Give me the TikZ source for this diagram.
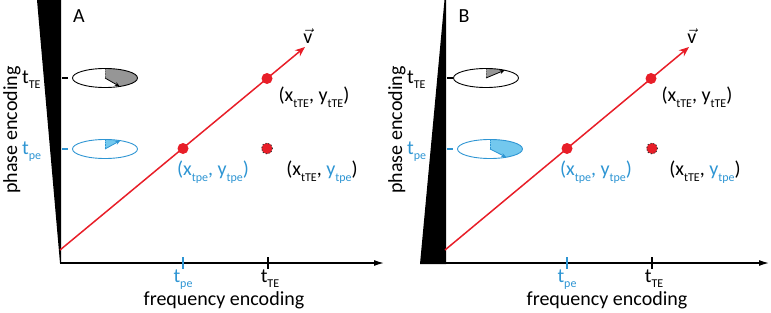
\documentclass[tikz,border=0pt]{standalone}
\usepackage{fontspec}
\setmainfont{Carlito}
\usetikzlibrary{arrows.meta}
\definecolor{myblue}{RGB}{46,149,211}
\definecolor{lblue}{RGB}{115,200,238}
\definecolor{myred}{RGB}{232,30,40}
\definecolor{sgray}{RGB}{150,150,150}
\newcommand\sbs[1]{\raisebox{-0.6ex}{\fontsize{12}{12}\selectfont #1}}
\tikzset{
  lbl/.style={font=\fontsize{20}{22}\selectfont, inner sep=0pt},
  axisline/.style={line width=1.3pt, -{Latex[length=10pt,width=6pt]}},
  vecline/.style={myred, line width=1.5pt, -{Stealth[length=10pt,width=8pt]}},
  rdot/.style={circle, fill=myred, minimum size=11pt, inner sep=0pt},
  ghost/.style={rdot, draw=black!80, dotted, line width=1pt},
  tick/.style={line width=1.3pt},
  ell/.style={line width=0.9pt},
  radius line/.style={line width=0.8pt, -{Stealth[length=5pt,width=4pt]}},
  dotradius/.style={densely dotted, line width=0.6pt, sgray!70!black},
}
\begin{document}
\begin{tikzpicture}[x=1pt,y=-1pt]
\useasboundingbox (0,0) rectangle (771,313);
% ================= Panel A =================
\fill (37,0) -- (61,0) -- (61,263) -- (60,263) -- cycle;
\coordinate (A-o) at (60,263);
\coordinate (A-xe) at (384,263);
\draw[axisline] (A-o) -- (A-xe);
% y ticks
\coordinate (A-yt1) at (62,78); \coordinate (A-yt2) at (68,78);
\coordinate (A-yp1) at (62,149); \coordinate (A-yp2) at (68,149);
\draw[tick] (A-yt1) -- (A-yt2);
\draw[tick, myblue] (A-yp1) -- (A-yp2);
\node[lbl, anchor=base west] (A-lte) at (22,83) {t\sbs{TE}};
\node[lbl, anchor=base west, text=myblue] (A-lpe) at (22,154) {t\sbs{pe}};
\node[lbl, rotate=90] (A-ylab) at (12,130) {phase encoding};
\node[lbl] (A-title) at (79,16) {A};
% x ticks
\coordinate (A-xp1) at (183,257); \coordinate (A-xp2) at (183,269);
\coordinate (A-xt1) at (268,257); \coordinate (A-xt2) at (268,269);
\draw[tick, myblue] (A-xp1) -- (A-xp2);
\draw[tick] (A-xt1) -- (A-xt2);
\node[lbl, anchor=base, text=myblue] (A-xlpe) at (183,282) {t\sbs{pe}};
\node[lbl, anchor=base] (A-xlte) at (270,282) {t\sbs{TE}};
\node[lbl] (A-xlab) at (224,300) {frequency encoding};
% ellipses
\coordinate (A-c1) at (105,78);
\fill[sgray] (A-c1) -- ([shift={(A-c1)}]90:32.5pt and 9.5pt) arc[start angle=90, end angle=-63, x radius=32.5pt, y radius=9.5pt] -- cycle;
\draw[ell] (A-c1) ellipse[x radius=32.5pt, y radius=9.5pt];
\draw[dotradius] (A-c1) -- ([shift={(A-c1)}]90:32.5pt and 9.5pt);
\draw[radius line] (A-c1) -- ([shift={(A-c1)}]-63:32.5pt and 9.5pt);
\coordinate (A-c2) at (105,149);
\fill[lblue] (A-c2) -- ([shift={(A-c2)}]90:32.5pt and 9.5pt) arc[start angle=90, end angle=62, x radius=32.5pt, y radius=9.5pt] -- cycle;
\draw[ell, myblue] (A-c2) ellipse[x radius=32.5pt, y radius=9.5pt];
\draw[dotradius, myblue] (A-c2) -- ([shift={(A-c2)}]90:32.5pt and 9.5pt);
\draw[radius line, myblue] (A-c2) -- ([shift={(A-c2)}]62:32.5pt and 9.5pt);
% vector
\coordinate (A-s) at (60,250);
\coordinate (A-tip) at (305,47);
\draw[vecline] (A-s) -- (A-tip);
\node[rdot] (A-d1) at (183,148.5) {};
\node[rdot] (A-d2) at (267,78.5) {};
\node[ghost] (A-d3) at (267,148.5) {};
\node[lbl] (A-v) at (308,36) {$\vec{\mbox{v}}$};
\node[lbl] (A-l2) at (314,97) {(x\sbs{tTE}, y\sbs{tTE})};
\node[lbl, text=myblue] (A-l1) at (213,172) {(x\sbs{tpe}, y\sbs{tpe})};
\node[lbl] (A-l3) at (322,172) {(x\sbs{tTE}, \textcolor{myblue}{y\sbs{tpe}})};
% ================= Panel B =================
\fill (444.5,0) -- (420,264) -- (446,264) -- (446,0) -- cycle;
\coordinate (B-o) at (420,263);
\coordinate (B-xe) at (769,263);
\draw[axisline] (B-o) -- (B-xe);
\coordinate (B-yt1) at (447,78); \coordinate (B-yt2) at (453,78);
\coordinate (B-yp1) at (447,149); \coordinate (B-yp2) at (453,149);
\draw[tick] (B-yt1) -- (B-yt2);
\draw[tick, myblue] (B-yp1) -- (B-yp2);
\node[lbl, anchor=base west] (B-lte) at (407,83) {t\sbs{TE}};
\node[lbl, anchor=base west, text=myblue] (B-lpe) at (407,154) {t\sbs{pe}};
\node[lbl, rotate=90] (B-ylab) at (397,130) {phase encoding};
\node[lbl] (B-title) at (464,16) {B};
\coordinate (B-xp1) at (567,257); \coordinate (B-xp2) at (567,269);
\coordinate (B-xt1) at (652,257); \coordinate (B-xt2) at (652,269);
\draw[tick, myblue] (B-xp1) -- (B-xp2);
\draw[tick] (B-xt1) -- (B-xt2);
\node[lbl, anchor=base, text=myblue] (B-xlpe) at (567,282) {t\sbs{pe}};
\node[lbl, anchor=base] (B-xlte) at (654,282) {t\sbs{TE}};
\node[lbl] (B-xlab) at (607,300) {frequency encoding};
\coordinate (B-c1) at (486,78);
\fill[sgray] (B-c1) -- ([shift={(B-c1)}]90:32.5pt and 9.5pt) arc[start angle=90, end angle=55, x radius=32.5pt, y radius=9.5pt] -- cycle;
\draw[ell] (B-c1) ellipse[x radius=32.5pt, y radius=9.5pt];
\draw[dotradius] (B-c1) -- ([shift={(B-c1)}]90:32.5pt and 9.5pt);
\draw[radius line] (B-c1) -- ([shift={(B-c1)}]55:32.5pt and 9.5pt);
\coordinate (B-c2) at (490,149);
\fill[lblue] (B-c2) -- ([shift={(B-c2)}]90:32.5pt and 9.5pt) arc[start angle=90, end angle=-60, x radius=32.5pt, y radius=9.5pt] -- cycle;
\draw[ell, myblue] (B-c2) ellipse[x radius=32.5pt, y radius=9.5pt];
\draw[dotradius, myblue] (B-c2) -- ([shift={(B-c2)}]90:32.5pt and 9.5pt);
\draw[radius line, myblue] (B-c2) -- ([shift={(B-c2)}]-60:32.5pt and 9.5pt);
\coordinate (B-s) at (445,250);
\coordinate (B-tip) at (689,47);
\draw[vecline] (B-s) -- (B-tip);
\node[rdot] (B-d1) at (567,148.5) {};
\node[rdot] (B-d2) at (651,78.5) {};
\node[ghost] (B-d3) at (652,148.5) {};
\node[lbl] (B-v) at (692,36) {$\vec{\mbox{v}}$};
\node[lbl] (B-l2) at (697,97) {(x\sbs{tTE}, y\sbs{tTE})};
\node[lbl, text=myblue] (B-l1) at (596,172) {(x\sbs{tpe}, y\sbs{tpe})};
\node[lbl] (B-l3) at (705,172) {(x\sbs{tTE}, \textcolor{myblue}{y\sbs{tpe}})};
\end{tikzpicture}
\end{document}
